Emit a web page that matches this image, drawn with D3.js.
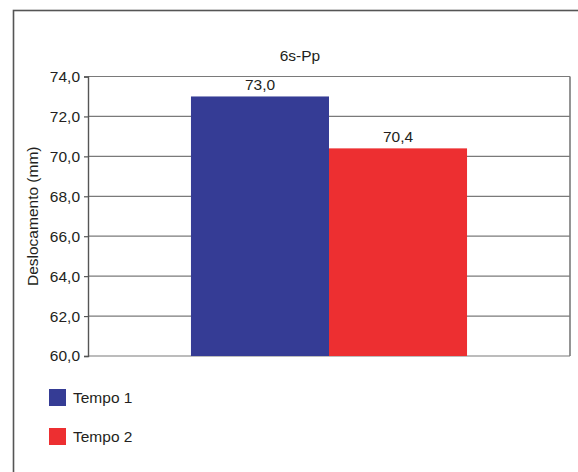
<!DOCTYPE html>
<html><head><meta charset="utf-8">
<script src="https://cdn.jsdelivr.net/npm/d3@7"></script>
<style>body{margin:0;background:#fff}svg{display:block}text{font-family:"Liberation Sans Narrow","Arial Narrow","Liberation Sans",sans-serif;fill:#231f20}</style>
</head><body><div id="c"></div>
<script>
const categories = ["6s-Pp"];
const seriesNames = ["Tempo 1", "Tempo 2"];
const seriesValues = [73.0, 70.4];
const seriesColors = ["#353c95", "#ed2f31"];
const yTicks = [60, 62, 64, 66, 68, 70, 72, 74];

const W = 578, H = 472;
const svg = d3.select("#c").append("svg").attr("width", W).attr("height", H);
svg.append("rect").attr("x", 13.5).attr("y", 10.5).attr("width", 700).attr("height", 600)
  .attr("fill", "none").attr("stroke", "#555").attr("stroke-width", 1.6);

const m = {l: 88, r: 570, t: 76.5, b: 356};
const y = d3.scaleLinear().domain([60, 74]).range([m.b, m.t]);
const x0 = d3.scaleBand().domain(categories).range([m.l, m.r]).paddingInner(0).paddingOuter(0.373);
const x1 = d3.scaleBand().domain(seriesNames).range([0, x0.bandwidth()]);
const fmt = v => d3.format(".1f")(v).replace(".", ",");

// gridlines
svg.append("g").selectAll("line").data(yTicks).join("line")
  .attr("x1", m.l).attr("x2", m.r).attr("y1", d => y(d)).attr("y2", d => y(d))
  .attr("stroke", "#7a7a7a").attr("stroke-width", 1.2);
// right border
svg.append("line").attr("x1", m.r).attr("x2", m.r).attr("y1", m.t).attr("y2", m.b)
  .attr("stroke", "#7a7a7a").attr("stroke-width", 1.6);

// bars
const g = svg.append("g").selectAll("g").data(categories).join("g")
  .attr("transform", d => `translate(${x0(d)},0)`);
g.selectAll("rect").data(seriesNames.map((s, i) => ({s, v: seriesValues[i], c: seriesColors[i]}))).join("rect")
  .attr("x", d => x1(d.s)).attr("width", x1.bandwidth())
  .attr("y", d => y(d.v)).attr("height", d => y(60) - y(d.v)).attr("fill", d => d.c);
g.selectAll("text").data(seriesNames.map((s, i) => ({s, v: seriesValues[i]}))).join("text")
  .attr("x", d => x1(d.s) + x1.bandwidth() / 2).attr("y", d => y(d.v) - 6)
  .attr("text-anchor", "middle").attr("font-size", 15.5).text(d => fmt(d.v));

// y axis
const ax = svg.append("g").attr("transform", `translate(${m.l},0)`)
  .call(d3.axisLeft(y).tickValues(yTicks).tickSize(4).tickPadding(4).tickFormat(fmt));
ax.select(".domain").attr("stroke", "#555").attr("stroke-width", 1.4);
ax.selectAll(".tick line").attr("stroke", "#555").attr("stroke-width", 1.2);
ax.selectAll(".tick text").attr("font-size", 15.5).attr("fill", "#231f20")
  .attr("font-family", '"Liberation Sans Narrow","Arial Narrow","Liberation Sans",sans-serif');

// title
svg.append("text").attr("x", 300).attr("y", 61).attr("text-anchor", "middle")
  .attr("font-size", 15.5).text(categories[0]);
// y label
svg.append("text").attr("transform", `translate(38,${(m.t + m.b) / 2}) rotate(-90)`)
  .attr("text-anchor", "middle").attr("font-size", 15.5).text("Deslocamento (mm)");

// legend
const lg = svg.append("g").selectAll("g").data(seriesNames).join("g")
  .attr("transform", (d, i) => `translate(49,${389 + i * 39})`);
lg.append("rect").attr("width", 17).attr("height", 17).attr("fill", (d, i) => seriesColors[i]);
lg.append("text").attr("x", 24).attr("y", 14).attr("font-size", 15.5).text(d => d);
</script></body></html>
